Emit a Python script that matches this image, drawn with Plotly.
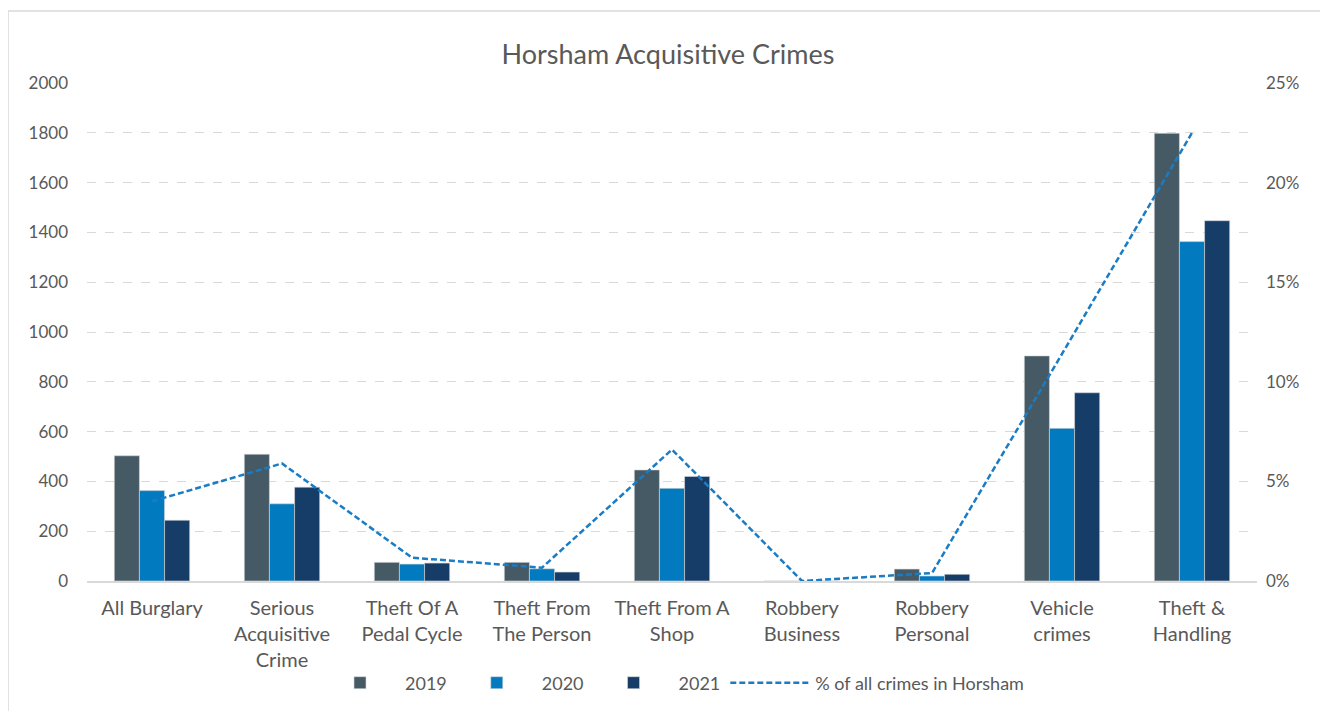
import plotly.graph_objects as go

categories = ["All Burglary", "Serious<br>Acquisitive<br>Crime", "Theft Of A<br>Pedal Cycle",
              "Theft From<br>The Person", "Theft From A<br>Shop", "Robbery<br>Business",
              "Robbery<br>Personal", "Vehicle<br>crimes", "Theft &<br>Handling"]
v2019 = [503, 509, 75, 75, 446, 0, 48, 904, 1798]
v2020 = [363, 310, 68, 49, 372, 0, 20, 613, 1363]
v2021 = [244, 377, 72, 36, 420, 0, 27, 756, 1447]
pct_all = [0.040, 0.059, 0.0117, 0.0067, 0.066, 0.0, 0.004, 0.114, 0.225]

FONT = "Lato"
GREY = "#595959"

# page body has an 8px margin, so the figure is 8px smaller and margins shifted
W, H = 1320, 703
L, T, PW, PH = 79, 75, 1170, 498

fig = go.Figure()
fig.add_trace(go.Bar(x=categories, y=v2019, name="2019", marker=dict(color="#465A66", line=dict(color="#D9D9D9", width=0.6))))
fig.add_trace(go.Bar(x=categories, y=v2020, name="2020", marker=dict(color="#027AC0", line=dict(color="#D9D9D9", width=0.6))))
fig.add_trace(go.Bar(x=categories, y=v2021, name="2021", marker=dict(color="#163D68", line=dict(color="#D9D9D9", width=0.6))))
fig.add_trace(go.Scatter(x=categories, y=pct_all, name="% of all crimes in Horsham", yaxis="y2",
                         mode="lines", line=dict(color="#1A7CC4", width=2.5, dash="6px,3px")))

fig.update_layout(
    width=W, height=H,
    paper_bgcolor="white", plot_bgcolor="white",
    margin=dict(l=L, r=W - L - PW, t=T, b=H - T - PH, autoexpand=False),
    barmode="group", bargap=0.42, bargroupgap=0,
    title=dict(text="Horsham Acquisitive Crimes", x=0.5, xanchor="center", y=1 - 47/H, yanchor="middle",
               font=dict(family=FONT, size=27, color=GREY)),
    font=dict(family=FONT, color=GREY),
    xaxis=dict(showline=True, linecolor="#D9D9D9", linewidth=1.5, ticks="",
               tickfont=dict(size=20, color=GREY), showgrid=False, ticklabelstandoff=8),
    yaxis=dict(range=[0, 2000], dtick=200, showgrid=True, gridcolor="#D9D9D9", griddash="dash",
               zeroline=False, tickfont=dict(size=17, color=GREY), ticklabelstandoff=18),
    yaxis2=dict(range=[0, 0.25], dtick=0.05, tickformat=".0%", overlaying="y", side="right",
                showgrid=False, zeroline=False, tickfont=dict(size=17, color=GREY), ticklabelstandoff=8),
    legend=dict(orientation="h", x=0.5, xanchor="center", y=-(675 - T - PH) / PH, yanchor="middle",
                font=dict(size=18, color=GREY), itemwidth=80, traceorder="normal"),
    showlegend=True,
)

fig.add_shape(type="line", xref="paper", yref="paper", x0=-L/PW, x1=-L/PW,
              y0=(T + PH - 3)/PH, y1=-(H - T - PH + 20)/PH, line=dict(color="#D9D9D9", width=1.5))
fig.add_shape(type="line", xref="paper", yref="paper", x0=-L/PW, x1=(W - L + 20)/PW,
              y0=(T + PH - 3)/PH, y1=(T + PH - 3)/PH, line=dict(color="#D9D9D9", width=1.5))

fig.write_html("out.html")
